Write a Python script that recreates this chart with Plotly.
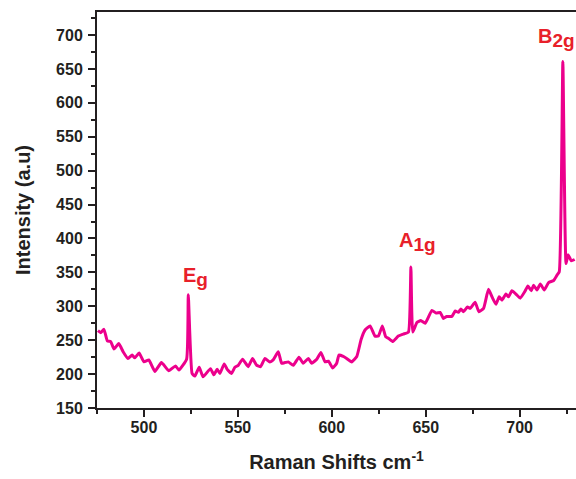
import plotly.graph_objects as go

raman_shift = [475.5, 477, 478.7, 480.5, 482.3, 484, 486.6, 488.9, 491.5, 493.7, 495.1, 497.4,
               500, 502.6, 505.8, 509.3, 513.2, 516.8, 518.6, 522.7, 523.6, 525.6, 527.1, 529.4,
               531.5, 535.4, 537.2, 539, 540.4, 542.7, 544.3, 546.6, 548.4, 550.2, 552.5, 555.5,
               557.8, 560, 562.1, 564.4, 567, 568.8, 571.5, 573.3, 575.1, 576.8, 579.5, 582.5,
               584.8, 587.5, 589.3, 592, 594.2, 596.4, 598.2, 600.5, 602.6, 603.8, 606.1, 607.9,
               610.6, 613.3, 615.6, 617.7, 620.4, 623, 624.8, 626.9, 628.7, 630.1, 632.5, 635.4,
               638.1, 640.8, 642.1, 643.1, 645.3, 647.4, 649.7, 653.3, 655.5, 657.7, 659.4, 661.2,
               663.9, 665.7, 667.4, 668.7, 670.1, 672.2, 673.7, 676.3, 678.3, 680.8, 683.4, 685.6,
               687.4, 689.1, 690.6, 692.7, 694.1, 695.9, 698, 700.3, 702.6, 704.4, 706.2, 707.4,
               709.2, 711, 713.1, 715.4, 718.1, 719.9, 721.1, 723.0, 724.7, 725.8, 727.5, 729.3]
intensity = [264, 261, 266, 249, 248, 237, 245, 233, 223, 228, 224, 231,
             218, 221, 204, 217, 205, 212, 206, 222, 317, 201, 197, 210,
             196, 208, 199, 207, 201, 215, 207, 201, 210, 213, 222, 211,
             223, 213, 211, 223, 218, 221, 233, 216, 217, 218, 213, 225,
             216, 223, 216, 222, 232, 218, 219, 209, 216, 228, 226, 223,
             218, 226, 251, 265, 271, 256, 256, 271, 255, 253, 248, 256,
             259, 262, 358, 262, 276, 279, 275, 294, 290, 291, 282, 285,
             285, 293, 291, 296, 292, 299, 297, 306, 292, 297, 325, 312,
             303, 314, 309, 318, 314, 323, 318, 312, 321, 330, 323, 331,
             324, 333, 324, 335, 338, 346, 351, 661, 363, 376, 367, 369]

SUB = '<sub><span style="font-size:19px">{}</span></sub>'
peak_labels = ["E" + SUB.format("g"), "A" + SUB.format("1g"), "B" + SUB.format("2g")]
peak_x = [527.6, 645.4, 719.5]
peak_y = [343, 395, 696]

LINE = "#EC008C"
RED = "#E8202A"
INK = "#231F20"
FONT = "Liberation Sans, Arial, sans-serif"

fig = go.Figure()
fig.add_trace(go.Scatter(x=raman_shift, y=intensity, mode="lines",
                         line=dict(color=LINE, width=3, shape="spline", smoothing=0.4),
                         showlegend=False))

for t, xx, yy in zip(peak_labels, peak_x, peak_y):
    fig.add_annotation(x=xx, y=yy, xref="x", yref="y", text=t, showarrow=False,
                       font=dict(family=FONT, size=20, color=RED, weight="bold"),
                       xanchor="center", yanchor="middle")

axis_common = dict(showgrid=False, zeroline=False, showline=True, linecolor=INK, linewidth=2,
                   ticks="outside", ticklen=7, tickwidth=2, tickcolor=INK, automargin=False,
                   tickfont=dict(family=FONT, size=16, color=INK, weight="bold"))

fig.update_layout(
    width=576, height=479,
    margin=dict(l=97, r=0, t=12, b=71),
    paper_bgcolor="white", plot_bgcolor="white",
    xaxis=dict(range=[475, 730], dtick=50, tick0=500, mirror=True, ticklabelstandoff=-3,
               minor=dict(dtick=25, tick0=475, ticks="outside", ticklen=4, tickwidth=2, tickcolor=INK),
               title=dict(text="Raman Shifts cm<sup>-1</sup>", standoff=20,
                          font=dict(family=FONT, size=20, color=INK, weight="bold")),
               **axis_common),
    yaxis=dict(range=[150, 734], dtick=50, tick0=150, ticklabelstandoff=2,
               minor=dict(dtick=25, tick0=150, ticks="outside", ticklen=4, tickwidth=2, tickcolor=INK),
               title=dict(text="Intensity (a.u)", standoff=20,
                          font=dict(family=FONT, size=20, color=INK, weight="bold")),
               **axis_common),
)

fig.write_html("out.html", config={"displayModeBar": False},
               post_script="document.body.style.margin='0';document.body.style.overflow='hidden';")
